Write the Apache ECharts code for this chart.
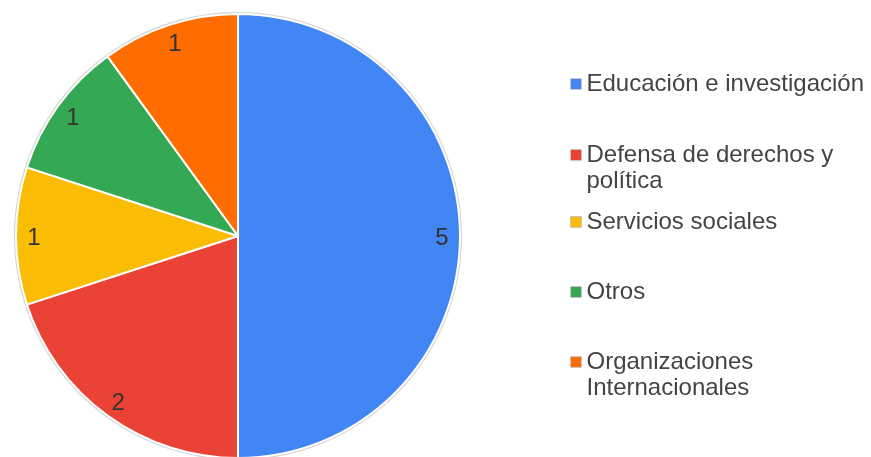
<!DOCTYPE html>
<html><head><meta charset="utf-8">
<script src="https://cdn.jsdelivr.net/npm/echarts@6/dist/echarts.min.js"></script>
<style>html,body{margin:0;padding:0;background:#fff}#c{width:871px;height:457px}</style>
</head><body><div id="c"></div>
<script>
const categories = ['Educación e investigación','Defensa de derechos y política','Servicios sociales','Otros','Organizaciones Internacionales'];
const values = [5, 2, 1, 1, 1];
const colors = ['#4285F4','#EA4335','#FBBC04','#34A853','#FF6D01'];
const legendLines = {
  'Defensa de derechos y política': '\nDefensa de derechos y\npolítica',
  'Organizaciones Internacionales': '\nOrganizaciones\nInternacionales'
};
const legendTops = [71, 116, 209, 279, 323];

const font = 'Liberation Sans, Arial, sans-serif';
const data = categories.map((n, i) => ({ name: n, value: values[i], itemStyle: { color: colors[i] } }));

const legends = categories.map((n, i) => ({
  data: [n], left: 570, top: legendTops[i], padding: 0,
  icon: 'rect', itemWidth: 11, itemHeight: 11, selectedMode: false,
  itemStyle: { borderColor: '#c8c8c8', borderWidth: 1 },
  formatter: name => legendLines[name] || name,
  textStyle: { fontFamily: font, fontSize: 24, color: '#444', lineHeight: 26 }
}));

const option = {
  animation: false,
  legend: legends,
  series: [
    { type: 'pie', name: 'bg', silent: true, center: [238, 236], radius: 224,
      data: [{ name: '_', value: 1, itemStyle: { color: '#d4d4d4' } }],
      label: { show: false }, labelLine: { show: false } },
    { type: 'pie', center: [238, 236], radius: 222, startAngle: 90, clockwise: true,
      data: data, itemStyle: { borderColor: '#fff', borderWidth: 2 },
      label: { show: false }, labelLine: { show: false } },
    { type: 'pie', silent: true, center: [238, 236], radius: [180, 222], startAngle: 90, clockwise: true,
      data: categories.map((n, i) => ({ name: n, value: values[i] })),
      itemStyle: { color: 'rgba(0,0,0,0)', borderWidth: 0 },
      label: { show: true, position: 'inside', formatter: p => String(p.value),
        fontFamily: font, fontSize: 24, color: '#333', offset: [0, 2] },
      labelLine: { show: false } }
  ]
};
echarts.init(document.getElementById('c')).setOption(option);
</script></body></html>
